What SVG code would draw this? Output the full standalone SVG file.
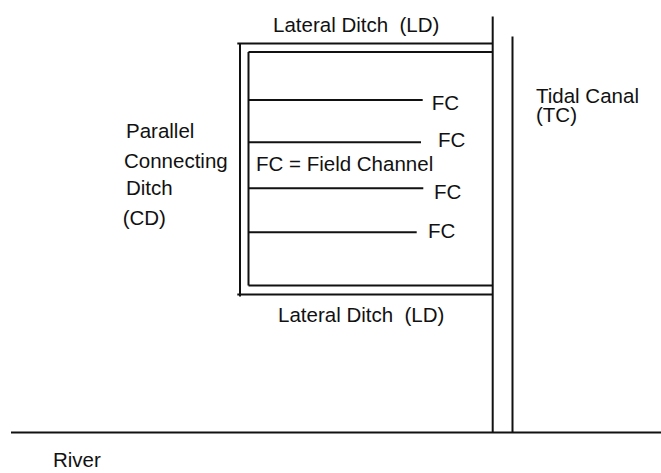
<svg xmlns="http://www.w3.org/2000/svg" width="661" height="473" viewBox="0 0 661 473">
<style>
text{font-family:"Liberation Sans",Arial,sans-serif;font-size:20.5px;fill:#111;white-space:pre}
line{stroke:#111;stroke-width:2}
</style>
<rect width="661" height="473" fill="#fff"/>
<g id="connectors">
<line x1="11" y1="432.5" x2="661" y2="432.5"/>
<line x1="492.7" y1="16.5" x2="492.7" y2="432.5"/>
<line x1="512.5" y1="36.5" x2="512.5" y2="432.5"/>
<line x1="237.3" y1="43.5" x2="492.7" y2="43.5"/>
<line x1="248.5" y1="52" x2="492.7" y2="52"/>
<line x1="248.5" y1="285.5" x2="492.7" y2="285.5"/>
<line x1="237.3" y1="294.5" x2="492.7" y2="294.5"/>
<line x1="240" y1="43.5" x2="240" y2="296.5"/>
<line x1="248.5" y1="52" x2="248.5" y2="285.5"/>
<line x1="248.5" y1="100" x2="422.7" y2="100"/>
<line x1="248.5" y1="142.3" x2="421" y2="142.3"/>
<line x1="248.5" y1="188.3" x2="423.3" y2="188.3"/>
<line x1="248.5" y1="232.3" x2="416.7" y2="232.3"/>
</g>
<g id="lateral-ditch-top"><text x="273" y="32" xml:space="preserve">Lateral Ditch  (LD)</text></g>
<g id="lateral-ditch-bottom"><text x="278" y="321.7" xml:space="preserve">Lateral Ditch  (LD)</text></g>
<g id="fc1"><text x="431.7" y="110">FC</text></g>
<g id="fc2"><text x="438" y="146.7">FC</text></g>
<g id="legend"><text x="256" y="171">FC = Field Channel</text></g>
<g id="fc3"><text x="434" y="199">FC</text></g>
<g id="fc4"><text x="428" y="238">FC</text></g>
<g id="connecting-ditch">
<text x="126" y="138.3">Parallel</text>
<text x="124" y="168">Connecting</text>
<text x="126" y="195">Ditch</text>
<text x="122.7" y="225">(CD)</text>
</g>
<g id="tidal-canal">
<text x="536" y="102.7">Tidal Canal</text>
<text x="536" y="122">(TC)</text>
</g>
<g id="river"><text x="53" y="467">River</text></g>
</svg>
